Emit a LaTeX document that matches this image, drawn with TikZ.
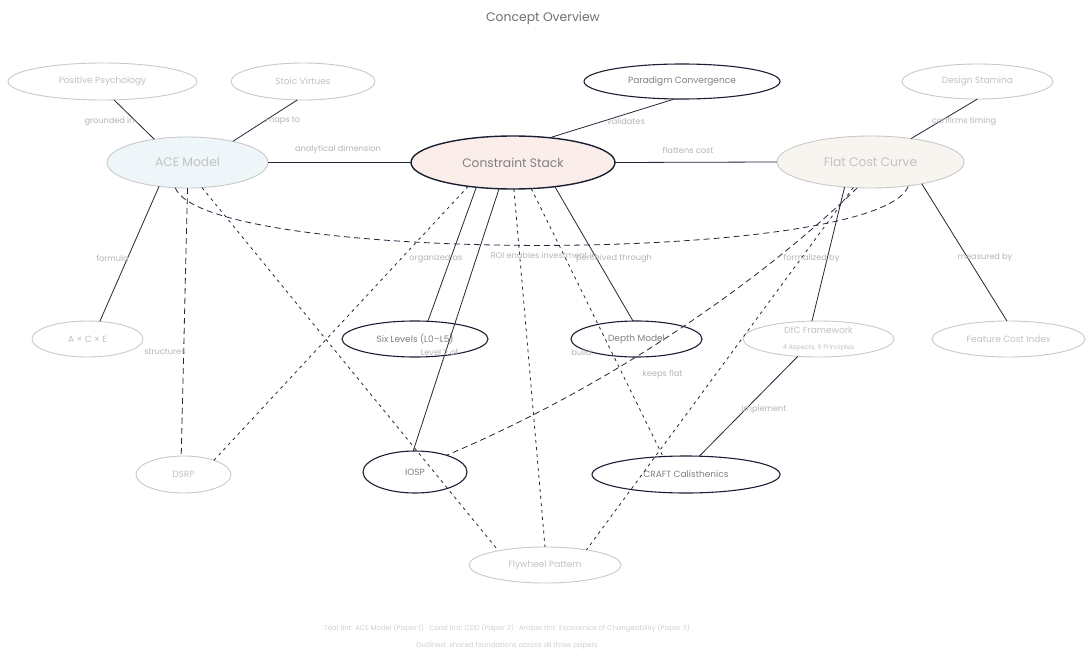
\documentclass[tikz,border=0pt]{standalone}
\usepackage{fontspec}
\setmainfont{Poppins}
\usetikzlibrary{shapes.geometric}
\definecolor{titlecol}{HTML}{707070}
\definecolor{lighttext}{HTML}{C2C2C2}
\definecolor{midtext}{HTML}{808080}
\definecolor{labelcol}{HTML}{B5B5B5}
\definecolor{footcol}{HTML}{D0D0D0}
\definecolor{lightborder}{HTML}{C9C9C9}
\definecolor{darkborder}{HTML}{1B1F33}
\definecolor{edgecol}{HTML}{22273A}
\definecolor{acefill}{HTML}{EFF6F9}
\definecolor{csfill}{HTML}{FBEDEA}
\definecolor{fccfill}{HTML}{F8F5F0}
\begin{document}
\begin{tikzpicture}[x=1pt,y=-1pt,
  base/.style={ellipse, inner sep=0pt, outer sep=0pt, align=center},
  lightnode/.style={base, draw=lightborder, line width=0.9pt, text=lighttext, font=\fontsize{9}{10}\selectfont},
  darknode/.style={base, draw=darkborder, line width=1.1pt, text=midtext, font=\fontsize{9}{10}\selectfont},
  bignode/.style={font=\fontsize{12.3}{14}\selectfont},
  dims/.style 2 args={minimum width=#1pt, minimum height=#2pt},
  conn/.style={draw=edgecol, line width=0.8pt},
  longdash/.style={conn, dash pattern=on 6pt off 4pt},
  shortdash/.style={conn, dash pattern=on 3pt off 4pt},
  elabel/.style={text=labelcol, font=\fontsize{8.2}{9}\selectfont, inner sep=0pt},
  foot/.style={text=footcol, font=\fontsize{6.9}{8}\selectfont, inner sep=0pt},
]
\fill[white] (0,0) rectangle (1086,650);
\useasboundingbox (0,0) rectangle (1086,650);

\node[text=titlecol, font=\fontsize{12.4}{14}\selectfont, inner sep=0pt] (title) at (543,18) {Concept Overview};

% nodes
\node[lightnode, dims={189}{37}] (pp) at (102.5,81.5) {Positive Psychology};
\node[lightnode, dims={144}{37}] (sv) at (303,81.5) {Stoic Virtues};
\node[lightnode, bignode, fill=acefill, dims={161}{51}] (ace) at (187.5,162.5) {ACE Model};
\node[darknode, dims={196}{35}] (pc) at (682,81.5) {Paradigm Convergence};
\node[darknode, bignode, fill=csfill, line width=1.4pt, dims={204}{53}] (cs) at (513,162.5) {Constraint Stack};
\node[lightnode, dims={151}{35}] (ds) at (977.5,81.5) {Design Stamina};
\node[lightnode, bignode, fill=fccfill, dims={187}{52}] (fcc) at (870.5,162) {Flat Cost Curve};
\node[lightnode, dims={111}{36}] (axe) at (87.5,339) {A × C × E};
\node[darknode, dims={146}{36}] (six) at (415,339) {Six Levels (L0–L5)};
\node[darknode, dims={131}{36}] (dm) at (636.5,339) {Depth Model};
\node[lightnode, dims={151}{36}, font=\fontsize{9}{16}\selectfont] (dfc) at (818.5,339) {DfC Framework\\{\fontsize{6.5}{7}\selectfont 4 Aspects, 9 Principles}};
\node[lightnode, dims={153}{36}] (fci) at (1008.5,339) {Feature Cost Index};
\node[lightnode, dims={95}{37}] (dsrp) at (183.5,474.5) {DSRP};
\node[darknode, dims={104}{42}] (iosp) at (415,472) {IOSP};
\node[darknode, dims={188}{37}] (craft) at (686,474.5) {CRAFT Calisthenics};
\node[lightnode, dims={152}{36}] (fly) at (545,565) {Flywheel Pattern};

% solid connectors
\draw[conn] (pp.302) -- (ace.145);
\draw[conn] (sv.253) -- (ace.25);
\draw[conn] (ace.east) -- (cs.west);
\draw[conn] (pc.247) -- (cs.34);
\draw[conn] (cs.east) -- (fcc.west);
\draw[conn] (ds.270) -- (fcc.30);
\draw[conn] (ace.220) -- (axe.55);
\draw[conn] (cs.214) -- (six.54);
\draw[conn] (cs.242) -- (iosp.95);
\draw[conn] (cs.330) -- (dm.101);
\draw[conn] (fcc.224) -- (dfc.110);
\draw[conn] (fcc.337) -- (fci.95);
\draw[conn] (dfc.220) -- (craft.54);

% dashed connectors
\draw[longdash] (ace.244) .. controls (205,265) and (880,265) .. (fcc.328);
\draw[longdash] (ace.270) -- (dsrp.97);
\draw[longdash] (fcc.243) .. controls (745,296) and (590,395) .. (iosp.28);
\draw[shortdash] (cs.208) -- (dsrp.25);
\draw[shortdash] (ace.300) -- (fly.163);
\draw[shortdash] (cs.272) -- (fly.90);
\draw[shortdash] (cs.305) -- (craft.142);
\draw[shortdash] (fcc.236) -- (fly.20);

% edge labels
\node[elabel] (l1) at (109.5,121) {grounded in};
\node[elabel] (l2) at (283,121) {maps to};
\node[elabel] (l3) at (338,149) {analytical dimension};
\node[elabel] (l4) at (626,121) {validates};
\node[elabel] (l5) at (688,150) {flattens cost};
\node[elabel] (l6) at (964,121) {confirms timing};
\node[elabel] (l7) at (112.5,258) {formula};
\node[elabel] (l8) at (436,258) {organized as};
\node[elabel] (l9) at (544,255) {ROI enables investment in};
\node[elabel] (l10) at (614,258) {perceived through};
\node[elabel] (l11) at (811.5,258) {formalized by};
\node[elabel] (l12) at (985,258) {measured by};
\node[elabel] (l13) at (165,352) {structures};
\node[elabel] (l14) at (439.5,352) {Level 2 of};
\node[elabel] (l15) at (581.5,352) {build};
\node[elabel] (l16) at (662.5,374) {keeps flat};
\node[elabel] (l17) at (764,409) {implement};

% footer
\node[foot] (f1) at (507,628) {Teal tint: ACE Model (Paper 1) · Coral tint: CDD (Paper 2) · Amber tint: Economics of Changeability (Paper 3)};
\node[foot] (f2) at (507,646) {Outlined: shared foundations across all three papers};
\end{tikzpicture}
\end{document}
